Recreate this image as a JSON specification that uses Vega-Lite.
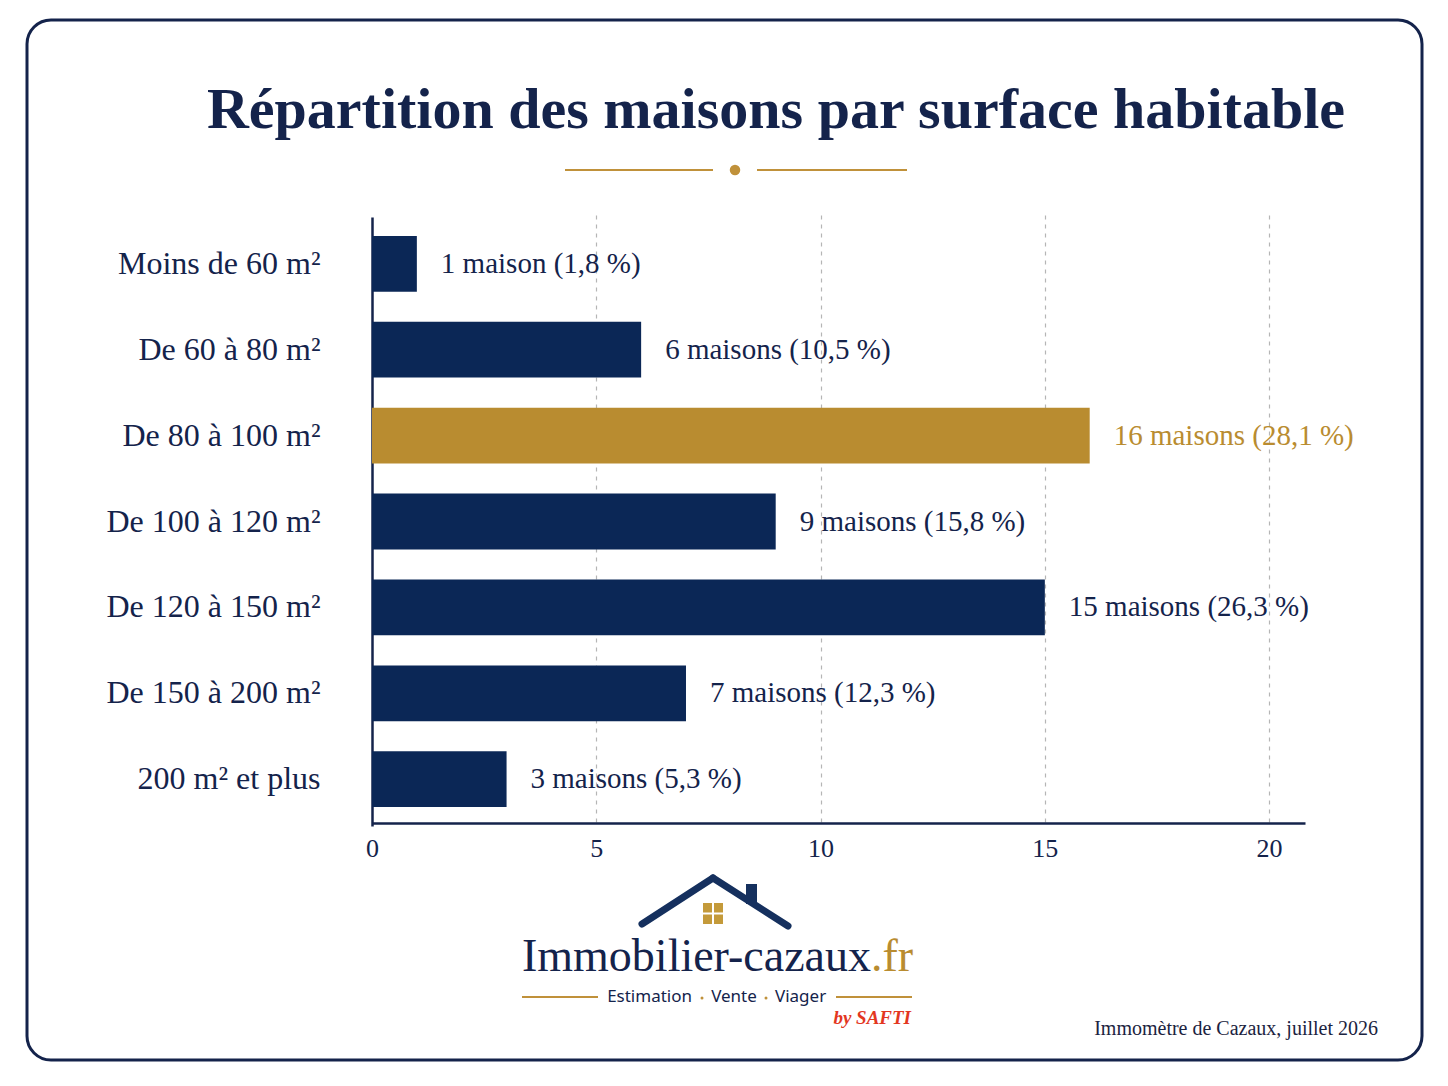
{
  "$schema": "https://vega.github.io/schema/vega-lite/v6.json",
  "width": 1448,
  "height": 1086,
  "autosize": {"type": "fit", "contains": "padding"},
  "padding": {"left": 27, "top": 20, "right": 26, "bottom": 26},
  "background": "#ffffff",
  "config": {
    "view": {"stroke": "#14234b", "strokeWidth": 3, "cornerRadius": 24, "fill": "#ffffff"},
    "text": {"font": "Liberation Serif", "color": "#14234b"}
  },
  "resolve": {"scale": {"x": "independent", "y": "independent"}},
  "layer": [
    {
      "data": {"values": [{}]},
      "mark": {"type": "point", "opacity": 0},
      "encoding": {
        "x": {"datum": 0, "type": "quantitative",
          "scale": {"domain": [0, 20.8], "range": [345, 1278], "nice": false},
          "axis": {"orient": "bottom", "grid": true, "gridDash": [4, 5], "gridColor": "#b5b5b5", "gridWidth": 1.2,
            "labels": false, "ticks": false, "domain": false, "values": [5, 10, 15, 20], "title": null}},
        "y": {"datum": 0, "type": "quantitative",
          "scale": {"domain": [0, 1], "range": [845, 237], "nice": false}, "axis": null}
      }
    },
    {
      "data": {"values": [
        {"surface": "Moins de 60 m²", "maisons": 1, "pct": 1.8, "label": "1 maison (1,8 %)"},
        {"surface": "De 60 à 80 m²", "maisons": 6, "pct": 10.5, "label": "6 maisons (10,5 %)"},
        {"surface": "De 80 à 100 m²", "maisons": 16, "pct": 28.1, "label": "16 maisons (28,1 %)"},
        {"surface": "De 100 à 120 m²", "maisons": 9, "pct": 15.8, "label": "9 maisons (15,8 %)"},
        {"surface": "De 120 à 150 m²", "maisons": 15, "pct": 26.3, "label": "15 maisons (26,3 %)"},
        {"surface": "De 150 à 200 m²", "maisons": 7, "pct": 12.3, "label": "7 maisons (12,3 %)"},
        {"surface": "200 m² et plus", "maisons": 3, "pct": 5.3, "label": "3 maisons (5,3 %)"}
      ]},
      "encoding": {
        "x": {"field": "maisons", "type": "quantitative",
          "scale": {"domain": [0, 20.8], "range": [345, 1278], "nice": false},
          "axis": {"orient": "bottom", "offset": -237, "grid": false, "ticks": false,
            "domainColor": "#14234b", "domainWidth": 2.5, "values": [0, 5, 10, 15, 20], "labelFlush": false,
            "labelFont": "Liberation Serif", "labelFontSize": 26, "labelColor": "#14234b", "labelPadding": 12, "title": null}},
        "y": {"field": "surface", "type": "nominal", "sort": null,
          "scale": {"range": [197, 806], "paddingInner": 0.35, "paddingOuter": 0.22},
          "axis": {"orient": "left", "offset": -345, "ticks": false, "grid": false,
            "domainColor": "#14234b", "domainWidth": 2.5,
            "labelFont": "Liberation Serif", "labelFontSize": 32, "labelColor": "#14234b", "labelPadding": 52,
            "labelLimit": 400, "title": null}}
      },
      "layer": [
        {
          "mark": {"type": "bar"},
          "encoding": {
            "color": {"condition": {"test": "datum.surface === 'De 80 à 100 m²'", "value": "#b98c30"}, "value": "#0b2756"}
          }
        },
        {
          "mark": {"type": "text", "align": "left", "baseline": "middle", "dx": 24, "fontSize": 29, "font": "Liberation Serif"},
          "encoding": {
            "text": {"field": "label"},
            "color": {"condition": {"test": "datum.surface === 'De 80 à 100 m²'", "value": "#b98c30"}, "value": "#14234b"}
          }
        }
      ]
    },
    {
      "data": {"values": [{}]},
      "layer": [
        {
          "mark": {"type": "text", "text": "Répartition des maisons par surface habitable", "fontSize": 58, "fontWeight": "bold", "align": "center", "baseline": "alphabetic", "color": "#14234b"},
          "encoding": {
            "x": {"datum": 776, "type": "quantitative", "scale": {"domain": [27, 1422], "nice": false}, "axis": null},
            "y": {"datum": 128, "type": "quantitative", "scale": {"domain": [20, 1060], "nice": false, "reverse": true}, "axis": null}
          }
        },
        {
          "mark": {"type": "rule", "color": "#c0913a", "strokeWidth": 2},
          "encoding": {
            "x": {"datum": 565, "type": "quantitative", "scale": {"domain": [27, 1422], "nice": false}, "axis": null},
            "x2": {"datum": 713},
            "y": {"datum": 170, "type": "quantitative", "scale": {"domain": [20, 1060], "nice": false, "reverse": true}, "axis": null}
          }
        },
        {
          "mark": {"type": "rule", "color": "#c0913a", "strokeWidth": 2},
          "encoding": {
            "x": {"datum": 757, "type": "quantitative", "scale": {"domain": [27, 1422], "nice": false}, "axis": null},
            "x2": {"datum": 907},
            "y": {"datum": 170, "type": "quantitative", "scale": {"domain": [20, 1060], "nice": false, "reverse": true}, "axis": null}
          }
        },
        {
          "mark": {"type": "point", "shape": "circle", "filled": true, "color": "#c0913a", "size": 110, "opacity": 1},
          "encoding": {
            "x": {"datum": 735, "type": "quantitative", "scale": {"domain": [27, 1422], "nice": false}, "axis": null},
            "y": {"datum": 170, "type": "quantitative", "scale": {"domain": [20, 1060], "nice": false, "reverse": true}, "axis": null}
          }
        },
        {
          "mark": {"type": "rule", "color": "#15305e", "strokeWidth": 7, "strokeCap": "round"},
          "encoding": {
            "x": {"datum": 642, "type": "quantitative", "scale": {"domain": [27, 1422], "nice": false}, "axis": null},
            "x2": {"datum": 713},
            "y": {"datum": 924, "type": "quantitative", "scale": {"domain": [20, 1060], "nice": false, "reverse": true}, "axis": null},
            "y2": {"datum": 878}
          }
        },
        {
          "mark": {"type": "rule", "color": "#15305e", "strokeWidth": 7, "strokeCap": "round"},
          "encoding": {
            "x": {"datum": 713, "type": "quantitative", "scale": {"domain": [27, 1422], "nice": false}, "axis": null},
            "x2": {"datum": 788},
            "y": {"datum": 878, "type": "quantitative", "scale": {"domain": [20, 1060], "nice": false, "reverse": true}, "axis": null},
            "y2": {"datum": 926}
          }
        },
        {
          "mark": {"type": "rect", "color": "#15305e"},
          "encoding": {
            "x": {"datum": 746, "type": "quantitative", "scale": {"domain": [27, 1422], "nice": false}, "axis": null},
            "x2": {"datum": 757},
            "y": {"datum": 884, "type": "quantitative", "scale": {"domain": [20, 1060], "nice": false, "reverse": true}, "axis": null},
            "y2": {"datum": 904}
          }
        },
        {
          "mark": {"type": "rect", "color": "#c49a3a"},
          "encoding": {
            "x": {"datum": 703, "type": "quantitative", "scale": {"domain": [27, 1422], "nice": false}, "axis": null},
            "x2": {"datum": 723},
            "y": {"datum": 903, "type": "quantitative", "scale": {"domain": [20, 1060], "nice": false, "reverse": true}, "axis": null},
            "y2": {"datum": 924}
          }
        },
        {
          "mark": {"type": "rule", "color": "#ffffff", "strokeWidth": 2},
          "encoding": {
            "x": {"datum": 713, "type": "quantitative", "scale": {"domain": [27, 1422], "nice": false}, "axis": null},
            "y": {"datum": 903, "type": "quantitative", "scale": {"domain": [20, 1060], "nice": false, "reverse": true}, "axis": null},
            "y2": {"datum": 924}
          }
        },
        {
          "mark": {"type": "rule", "color": "#ffffff", "strokeWidth": 2},
          "encoding": {
            "x": {"datum": 703, "type": "quantitative", "scale": {"domain": [27, 1422], "nice": false}, "axis": null},
            "x2": {"datum": 723},
            "y": {"datum": 913.5, "type": "quantitative", "scale": {"domain": [20, 1060], "nice": false, "reverse": true}, "axis": null}
          }
        },
        {
          "mark": {"type": "text", "text": "Immobilier-cazaux", "fontSize": 46, "align": "right", "baseline": "alphabetic", "color": "#14234b"},
          "encoding": {
            "x": {"datum": 871, "type": "quantitative", "scale": {"domain": [27, 1422], "nice": false}, "axis": null},
            "y": {"datum": 971, "type": "quantitative", "scale": {"domain": [20, 1060], "nice": false, "reverse": true}, "axis": null}
          }
        },
        {
          "mark": {"type": "text", "text": ".fr", "fontSize": 46, "align": "left", "baseline": "alphabetic", "color": "#b98c30"},
          "encoding": {
            "x": {"datum": 871, "type": "quantitative", "scale": {"domain": [27, 1422], "nice": false}, "axis": null},
            "y": {"datum": 971, "type": "quantitative", "scale": {"domain": [20, 1060], "nice": false, "reverse": true}, "axis": null}
          }
        },
        {
          "mark": {"type": "rule", "color": "#c0913a", "strokeWidth": 2},
          "encoding": {
            "x": {"datum": 522, "type": "quantitative", "scale": {"domain": [27, 1422], "nice": false}, "axis": null},
            "x2": {"datum": 598},
            "y": {"datum": 997, "type": "quantitative", "scale": {"domain": [20, 1060], "nice": false, "reverse": true}, "axis": null}
          }
        },
        {
          "mark": {"type": "rule", "color": "#c0913a", "strokeWidth": 2},
          "encoding": {
            "x": {"datum": 836, "type": "quantitative", "scale": {"domain": [27, 1422], "nice": false}, "axis": null},
            "x2": {"datum": 912},
            "y": {"datum": 997, "type": "quantitative", "scale": {"domain": [20, 1060], "nice": false, "reverse": true}, "axis": null}
          }
        },
        {
          "mark": {"type": "text", "text": "Estimation", "font": "Noto Sans", "fontSize": 17, "align": "right", "baseline": "middle", "color": "#14234b"},
          "encoding": {
            "x": {"datum": 692, "type": "quantitative", "scale": {"domain": [27, 1422], "nice": false}, "axis": null},
            "y": {"datum": 997, "type": "quantitative", "scale": {"domain": [20, 1060], "nice": false, "reverse": true}, "axis": null}
          }
        },
        {
          "mark": {"type": "text", "text": "Vente", "font": "Noto Sans", "fontSize": 17, "align": "center", "baseline": "middle", "color": "#14234b"},
          "encoding": {
            "x": {"datum": 734, "type": "quantitative", "scale": {"domain": [27, 1422], "nice": false}, "axis": null},
            "y": {"datum": 997, "type": "quantitative", "scale": {"domain": [20, 1060], "nice": false, "reverse": true}, "axis": null}
          }
        },
        {
          "mark": {"type": "text", "text": "Viager", "font": "Noto Sans", "fontSize": 17, "align": "left", "baseline": "middle", "color": "#14234b"},
          "encoding": {
            "x": {"datum": 775, "type": "quantitative", "scale": {"domain": [27, 1422], "nice": false}, "axis": null},
            "y": {"datum": 997, "type": "quantitative", "scale": {"domain": [20, 1060], "nice": false, "reverse": true}, "axis": null}
          }
        },
        {
          "mark": {"type": "point", "shape": "circle", "filled": true, "color": "#c0913a", "size": 9, "opacity": 1},
          "encoding": {
            "x": {"datum": 702, "type": "quantitative", "scale": {"domain": [27, 1422], "nice": false}, "axis": null},
            "y": {"datum": 998, "type": "quantitative", "scale": {"domain": [20, 1060], "nice": false, "reverse": true}, "axis": null}
          }
        },
        {
          "mark": {"type": "point", "shape": "circle", "filled": true, "color": "#c0913a", "size": 9, "opacity": 1},
          "encoding": {
            "x": {"datum": 766, "type": "quantitative", "scale": {"domain": [27, 1422], "nice": false}, "axis": null},
            "y": {"datum": 998, "type": "quantitative", "scale": {"domain": [20, 1060], "nice": false, "reverse": true}, "axis": null}
          }
        },
        {
          "mark": {"type": "text", "text": "by SAFTI", "fontSize": 19, "fontWeight": "bold", "fontStyle": "italic", "align": "right", "baseline": "middle", "color": "#e3371f"},
          "encoding": {
            "x": {"datum": 911, "type": "quantitative", "scale": {"domain": [27, 1422], "nice": false}, "axis": null},
            "y": {"datum": 1018, "type": "quantitative", "scale": {"domain": [20, 1060], "nice": false, "reverse": true}, "axis": null}
          }
        },
        {
          "mark": {"type": "text", "text": "Immomètre de Cazaux, juillet 2026", "fontSize": 20, "align": "right", "baseline": "middle", "color": "#1b2340"},
          "encoding": {
            "x": {"datum": 1378, "type": "quantitative", "scale": {"domain": [27, 1422], "nice": false}, "axis": null},
            "y": {"datum": 1029, "type": "quantitative", "scale": {"domain": [20, 1060], "nice": false, "reverse": true}, "axis": null}
          }
        }
      ]
    }
  ]
}
